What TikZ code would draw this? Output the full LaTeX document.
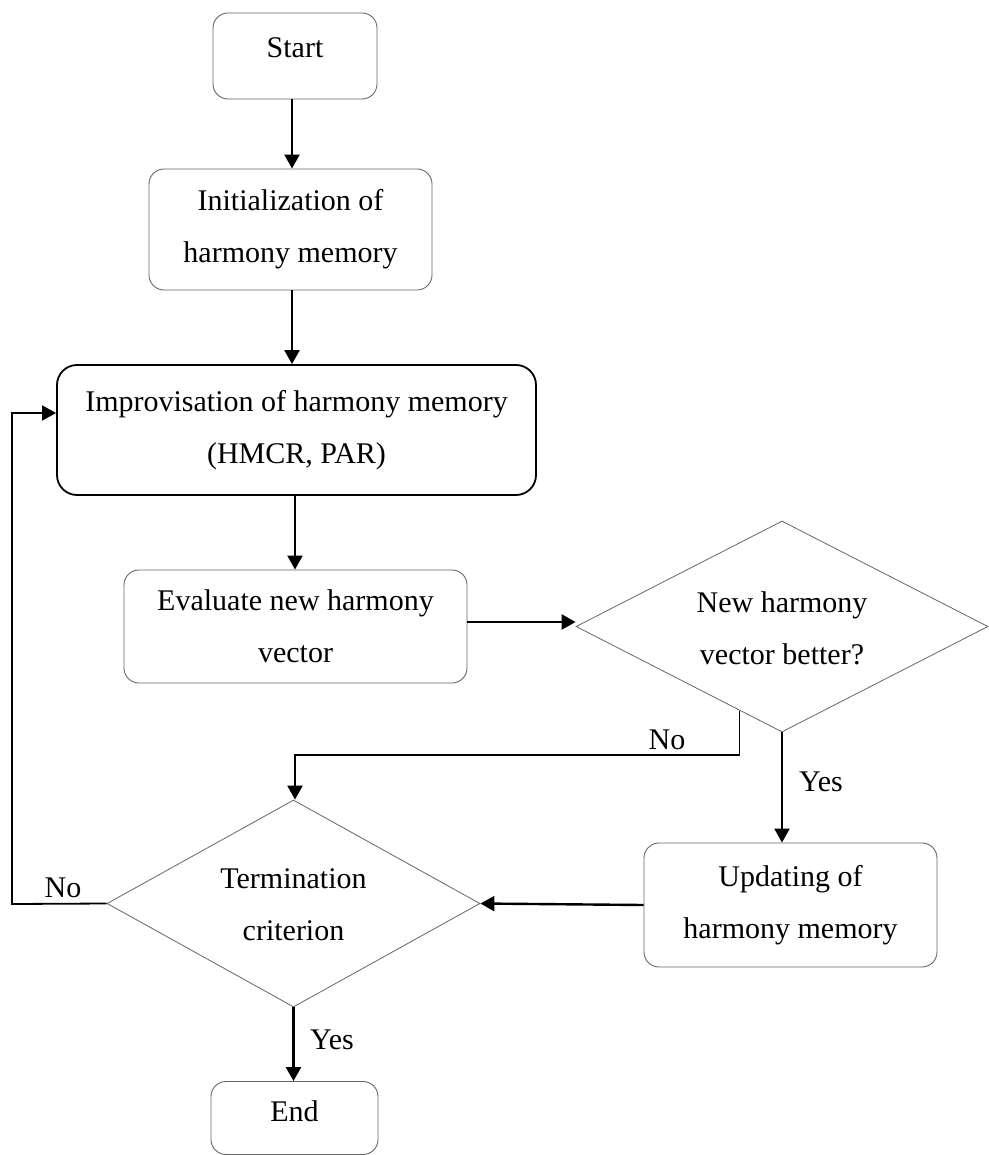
\documentclass[tikz,border=0pt]{standalone}
\usepackage{fontspec}
\setmainfont{Liberation Serif}
\usetikzlibrary{arrows.meta,shapes.geometric,calc}

\tikzset{
  txt/.style={font=\fontsize{30}{52}\selectfont, align=center, inner sep=0pt},
  softbox/.style={draw=black!60, line width=0.9pt, rounded corners=15pt, fill=white},
  boldbox/.style={draw=black, line width=1.8pt, rounded corners=20pt, fill=white},
  decision/.style={draw=black!60, line width=0.8pt, diamond, inner sep=0pt, shape aspect=1.95},
  flow/.style={draw=black, line width=2.4pt, -{Triangle[length=14pt,width=15pt]}},
  plain/.style={draw=black, line width=1.8pt},
  lbl/.style={font=\fontsize{30}{36}\selectfont, inner sep=0pt}
}

\begin{document}
\begin{tikzpicture}[x=1pt, y=-1pt]
\useasboundingbox (0,0) rectangle (988,1155);

% process boxes
\node[softbox, txt, minimum width=164pt, minimum height=86pt, text height=20pt, text depth=16pt] (start) at (295,56) {Start};
\node[softbox, txt, minimum width=283pt, minimum height=121pt] (init) at (290.5,229.5) {Initialization of\\harmony memory};
\node[boldbox, txt, minimum width=479pt, minimum height=130pt] (improv) at (296.5,430) {Improvisation of harmony memory\\(HMCR, PAR)};
\node[softbox, txt, minimum width=343pt, minimum height=113pt] (eval) at (295.5,626.5) {Evaluate new harmony\\vector};
\node[softbox, txt, minimum width=293pt, minimum height=124pt] (upd) at (790.5,905) {Updating of\\harmony memory};
\node[softbox, txt, minimum width=167pt, minimum height=73pt, text height=20pt, text depth=14pt] (finish) at (294.5,1118) {End};

% decisions
\node[decision, minimum width=412pt, minimum height=211pt] (d1) at (782,626.5) {};
\node[txt] (d1t) at (782,628) {New harmony\\vector better?};
\node[decision, minimum width=373pt, minimum height=207pt] (d2) at (293.5,903.5) {};
\node[txt] (d2t) at (293.5,905) {Termination\\criterion};

% main flow
\draw[flow] (start.south -| 292,0) -- (init.north -| 292,0);
\draw[flow] (init.south -| 292,0) -- (improv.north -| 292,0);
\draw[flow] (improv.south -| 295,0) -- (eval.north -| 295,0);
\draw[flow] (eval.east |- 0,622) -- (d1.west |- 0,622);
\draw[flow] (d1.south) -- (upd.north -| d1.south);
\draw[flow] (upd.west) -- (d2.east);
\draw[flow] (d2.south) -- (finish.north -| d2.south);

% "No" branch of the first decision
\coordinate (noA) at ($(d1.west)!0.795!(d1.south)$);
\coordinate (noB) at (noA |- 0,755);
\draw[plain, line width=1.4pt] (noA) -- (noB);
\draw[flow] (noB) -- (295,755) -- (d2.north -| 295,0);

% "No" branch of the termination check
\coordinate (back) at (12,904);
\draw[flow, line width=1.8pt] (d2.west) -- (back) -- (12,413) -- (improv.west |- 0,413);

% branch labels
\node[lbl] (l1) at (667,740) {No};
\node[lbl] (l2) at (821,782) {Yes};
\node[lbl] (l3) at (63,888) {No};
\node[lbl] (l4) at (332,1040) {Yes};
\end{tikzpicture}
\end{document}
